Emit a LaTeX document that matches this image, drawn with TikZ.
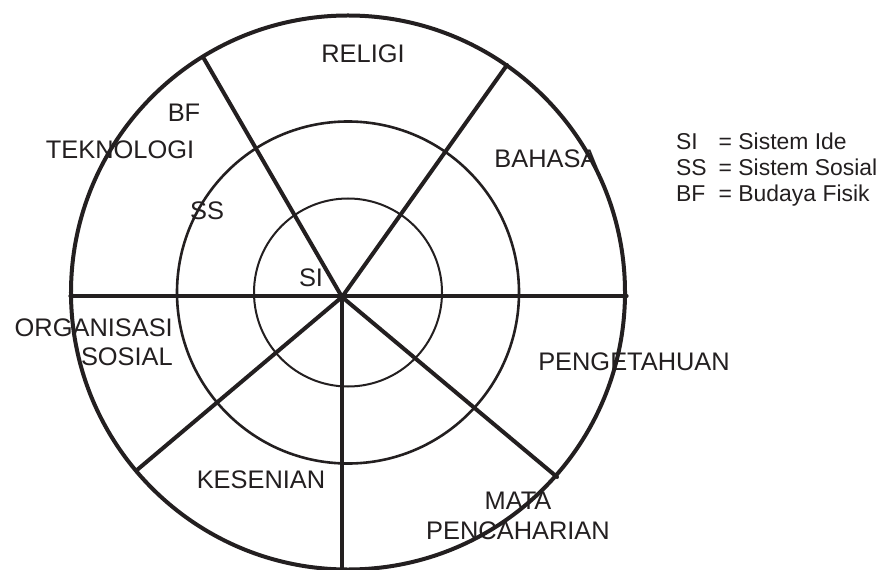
\documentclass[tikz,border=0pt]{standalone}
\usepackage{fontspec}
\setmainfont{Liberation Sans}
\definecolor{ink}{RGB}{35,31,32}

\begin{document}
\begin{tikzpicture}[x=1bp,y=-1bp,line cap=round,line join=round,color=ink,
  every node/.style={inner sep=0pt,font=\fontsize{25.5}{29.5}\selectfont},
  spoke/.style={line width=4bp}]
  \def\Rin{94}
  \def\Rmid{171}
  \def\Rout{277}
  \useasboundingbox (0,0) rectangle (884,570);
  \coordinate (C) at (348,292.5);
  \coordinate (O) at (342,297);
  % rings
  \draw[line width=2bp] (C) circle[radius=\Rin bp];
  \draw[line width=2.6bp] (C) circle[radius=\Rmid bp];
  \draw[line width=4bp] (C) circle[radius=\Rout bp];
  % spokes
  \coordinate (w) at (70,296);
  \coordinate (e) at (627,296);
  \coordinate (nw) at (203,57);
  \coordinate (ne) at (507,65);
  \coordinate (sw) at (137,470);
  \coordinate (s) at (342,568);
  \coordinate (se) at (557,477);
  \draw[line width=3.2bp] (w) -- (e);
  \foreach \p in {nw,ne,sw,s,se}
    \draw[spoke] (O) -- (\p);
  % labels
  \node[anchor=base] (religi) at (363,63) {RELIGI};
  \node[anchor=base] (bf) at (184,122) {BF};
  \node[anchor=base] (tek) at (120,159) {TEKNOLOGI};
  \node[anchor=base] (ss) at (207,220) {SS};
  \node[anchor=base] (si) at (311,286) {SI};
  \node[anchor=base] (bahasa) at (546,168) {BAHASA};
  \node[anchor=base] (seni) at (261,488) {KESENIAN};
  \node[anchor=base] (tahu) at (634,370) {PENGETAHUAN};
  \node[anchor=east,align=right] (org) at (173,342.5) {ORGANISASI\\SOSIAL};
  \node[align=center] (mata) at (518,516) {MATA\\PENCAHARIAN};
  \node[anchor=base west,font=\fontsize{23}{26}\selectfont] (legend) at (676,150)
    {\begin{tabular}[t]{@{}p{42.5bp}@{}l@{}}
      SI & = Sistem Ide\\
      SS & = Sistem Sosial\\
      BF & = Budaya Fisik
    \end{tabular}};
\end{tikzpicture}
\end{document}
